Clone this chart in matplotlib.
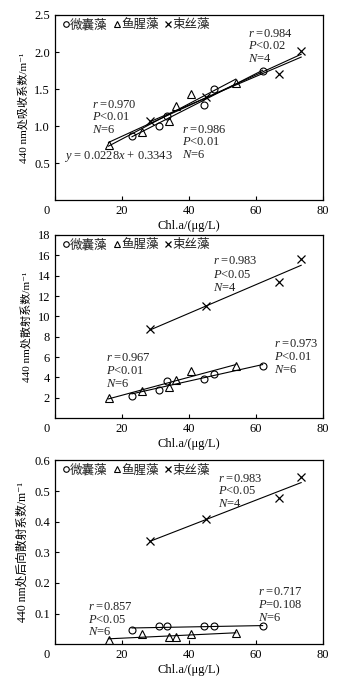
import matplotlib
matplotlib.use("Agg")
import matplotlib.pyplot as plt
import matplotlib.ticker as mticker
import matplotlib.transforms as mtrans
import numpy as np

plt.rcParams['font.family'] = ['Liberation Serif', 'Noto Sans CJK SC', 'DejaVu Sans']
plt.rcParams['mathtext.fontset'] = 'custom'
plt.rcParams['mathtext.rm'] = 'Liberation Serif'
plt.rcParams['mathtext.it'] = 'Liberation Serif:italic'
plt.rcParams['font.size'] = 9
plt.rcParams['text.color'] = '#222222'

# chlorophyll a of the three algae
names = ['微囊藻', '鱼腥藻', '束丝藻']
x_mic = [23, 31, 33.5, 44.5, 47.5, 62]
x_ana = [16, 26, 34, 36, 40.5, 54]
x_aph = [28.5, 45, 67, 73.5]

# absorption coefficient
abs_mic = [0.86, 1.00, 1.14, 1.28, 1.50, 1.74]
abs_ana = [0.74, 0.92, 1.07, 1.27, 1.43, 1.58]
abs_aph = [1.07, 1.39, 1.71, 2.01]

# scattering coefficient
sca_mic = [2.2, 2.8, 3.6, 3.85, 4.35, 5.15]
sca_ana = [1.95, 2.7, 3.05, 3.75, 4.6, 5.1]
sca_aph = [8.75, 11.05, 13.4, 15.6]

# backscattering coefficient
bb_mic = [0.048, 0.058, 0.058, 0.058, 0.058, 0.059]
bb_ana = [0.013, 0.032, 0.024, 0.024, 0.034, 0.036]
bb_aph = [0.338, 0.409, 0.477, 0.546]

ylabels = ['440 nm处吸收系数/m⁻¹', '440 nm处散射系数/m⁻¹',
           '440 nm处后向散射系数/m⁻¹']


def fit_line(ax, x, y):
    k, b = np.polyfit(x, y, 1)
    xs = np.array([min(x), max(x)])
    ax.plot(xs, k * xs + b, color='black', lw=0.8, zorder=2)


def stats(ax, x, y, r, p, n, dy):
    ax.text(x, y, '$r$ =' + r, ha='left', va='top')
    ax.text(x, y - dy, '$P$' + p, ha='left', va='top')
    ax.text(x, y - 2 * dy, '$N$=' + n, ha='left', va='top')


def setup(ax, ymax, yticks, ylabel, yfs):
    ax.set_xlim(0, 80)
    ax.set_ylim(0, ymax)
    ax.set_xticks([0, 20, 40, 60, 80])
    ax.set_yticks(yticks)
    ax.tick_params(direction='in', length=3, width=0.8, labelsize=9)
    ax.set_xlabel('Chl.a/(μg/L)', fontsize=9, labelpad=2)
    ax.set_ylabel(ylabel, fontsize=yfs, labelpad=4)
    for s in ax.spines.values():
        s.set_linewidth(0.9)
    # the "0" on the x axis sits a bit left in the original
    lab0 = ax.get_xticklabels()[0]
    lab0.set_transform(lab0.get_transform() + mtrans.ScaledTranslation(-6 / 72, 0, fig.dpi_scale_trans))


def scatter(ax, ym, ya, yp):
    ax.plot(x_mic, ym, 'o', mfc='none', mec='black', ms=5, mew=0.8, label=names[0], zorder=3)
    ax.plot(x_ana, ya, '^', mfc='none', mec='black', ms=5.5, mew=0.8, label=names[1], zorder=3)
    ax.plot(x_aph, yp, 'x', color='black', ms=6, mew=0.9, label=names[2], zorder=3)
    ax.legend(loc='upper left', frameon=False, ncol=3, handlelength=0.5,
              handletextpad=0.1, columnspacing=0.5, borderaxespad=0.2, fontsize=9,
              markerscale=0.8, bbox_to_anchor=(0.0, 1.02))


fig = plt.figure(figsize=(3.41, 6.81), dpi=100)
ax1 = fig.add_axes([0.161, 0.706, 0.786, 0.272])
ax2 = fig.add_axes([0.161, 0.386, 0.786, 0.269])
ax3 = fig.add_axes([0.161, 0.054, 0.786, 0.270])

# panel 1
scatter(ax1, abs_mic, abs_ana, abs_aph)
fit_line(ax1, x_mic, abs_mic)
fit_line(ax1, x_ana, abs_ana)
fit_line(ax1, x_aph, abs_aph)
fit_line(ax1, x_ana + x_aph, abs_ana + abs_aph)
setup(ax1, 2.5, [0.5, 1.0, 1.5, 2.0, 2.5], ylabels[0], 8)
ax1.yaxis.set_major_formatter(mticker.FormatStrFormatter('%.1f'))
stats(ax1, 57.5, 2.33, '0.984', '<0.02', '4', 0.17)
stats(ax1, 11, 1.37, '0.970', '<0.01', '6', 0.17)
stats(ax1, 37.8, 1.03, '0.986', '<0.01', '6', 0.17)
ax1.text(2.7, 0.59, '$y$ = 0.0228$x$ + 0.3343', ha='left', va='center')

# panel 2
scatter(ax2, sca_mic, sca_ana, sca_aph)
fit_line(ax2, x_mic, sca_mic)
fit_line(ax2, x_ana, sca_ana)
fit_line(ax2, x_aph, sca_aph)
setup(ax2, 18, [2, 4, 6, 8, 10, 12, 14, 16, 18], ylabels[1], 8)
stats(ax2, 47.3, 16.0, '0.983', '<0.05', '4', 1.3)
stats(ax2, 15.4, 6.5, '0.967', '<0.01', '6', 1.3)
stats(ax2, 65.4, 7.9, '0.973', '<0.01', '6', 1.3)

# panel 3
scatter(ax3, bb_mic, bb_ana, bb_aph)
fit_line(ax3, x_mic, bb_mic)
fit_line(ax3, x_ana, bb_ana)
fit_line(ax3, x_aph, bb_aph)
setup(ax3, 0.6, [0.1, 0.2, 0.3, 0.4, 0.5, 0.6], ylabels[2], 8.5)
stats(ax3, 48.8, 0.56, '0.983', '<0.05', '4', 0.042)
stats(ax3, 10, 0.142, '0.857', '<0.05', '6', 0.042)
stats(ax3, 60.7, 0.19, '0.717', '=0.108', '6', 0.042)

fig.savefig('out.png', dpi=100)
